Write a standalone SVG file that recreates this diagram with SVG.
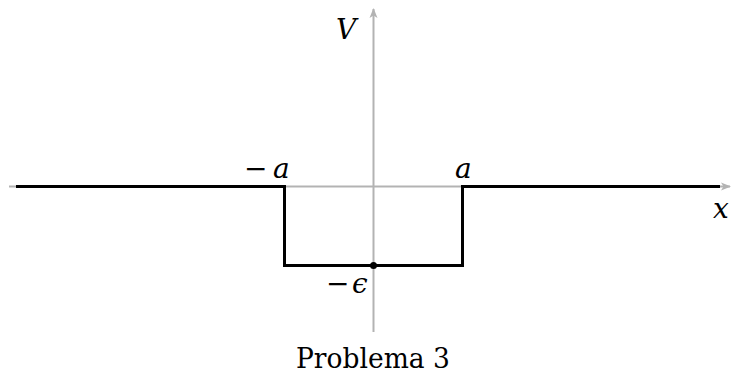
<svg xmlns="http://www.w3.org/2000/svg" width="735" height="374" viewBox="0 0 735 374">
<style>
.axis{stroke:#b3b3b3;stroke-width:2;fill:none}
.curve{stroke:#000;stroke-width:3;fill:none;stroke-linejoin:miter}
.lbl{font-family:"DejaVu Serif","Liberation Serif",serif;font-size:28px;fill:#000}
.it{font-style:italic}
.cap{font-size:27px}
</style>
<defs>
<marker id="ah" markerWidth="10" markerHeight="10" refX="9" refY="5" orient="auto" markerUnits="userSpaceOnUse">
<path d="M0,1 L10,5 L0,9 L2.5,5 Z" fill="#b3b3b3"/>
</marker>
</defs>
<g id="connectors">
<line class="axis" x1="9" y1="186.5" x2="730" y2="186.5" marker-end="url(#ah)"/>
<line class="axis" x1="373.5" y1="332" x2="373.5" y2="9" marker-end="url(#ah)"/>
<path class="curve" d="M16,186.5 H284.5 V265.5 H462.5 V186.5 H720"/>
</g>
<g id="dot"><circle cx="373.5" cy="265.5" r="3.5" fill="#000"/></g>
<g id="labels">
<text class="lbl it" x="336" y="39">V</text>
<text class="lbl" x="244" y="178">−</text>
<text class="lbl it" x="273" y="178">a</text>
<text class="lbl it" x="455" y="178">a</text>
<text class="lbl it" x="713" y="218">x</text>
<text class="lbl" x="326" y="293">−</text>
<text class="lbl it" x="352" y="293">ϵ</text>
<text class="lbl cap" x="296" y="368" textLength="154" lengthAdjust="spacingAndGlyphs">Problema 3</text>
</g>
</svg>
